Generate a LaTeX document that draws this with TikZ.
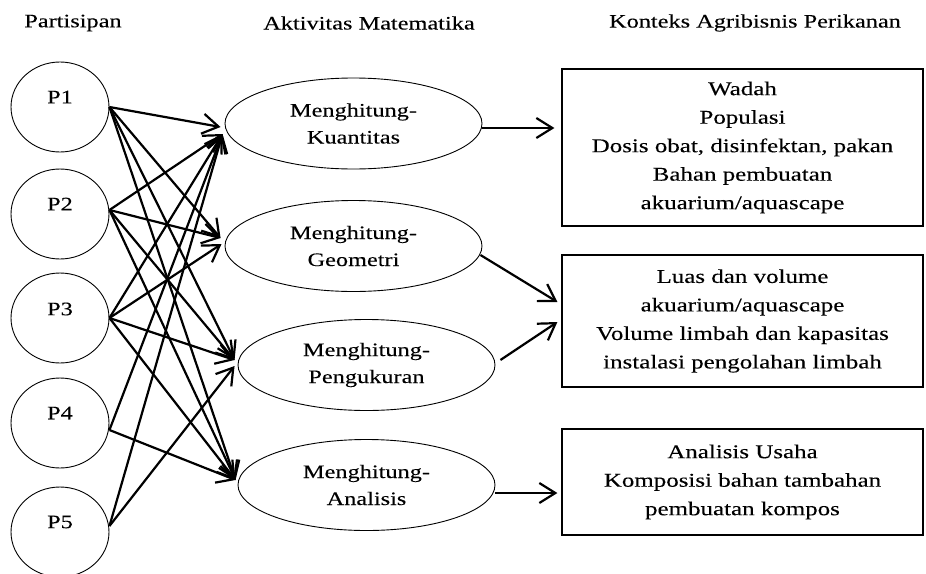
\documentclass[tikz,border=0pt]{standalone}
\usepackage{fontspec}
\setmainfont{Liberation Serif}[FakeStretch=1.28,FakeBold=0.15]
\usetikzlibrary{arrows.meta,shapes.geometric}
\begin{document}
\begin{tikzpicture}[x=1pt,y=-1pt,
  every node/.style={font=\fontsize{19}{27}\selectfont},
  pnode/.style={ellipse,draw,line width=0.9pt,minimum width=98pt,minimum height=90pt,inner sep=0pt},
  ptext/.style={inner sep=0pt},
  mnode/.style={ellipse,draw,line width=0.9pt,minimum width=257pt,minimum height=91pt,inner sep=0pt,align=center},
  cbox/.style={draw,line width=1.2pt,align=center,font=\fontsize{19.5}{28.5}\selectfont,minimum width=361pt,inner sep=0pt},
  hdr/.style={inner sep=0pt},
  conn/.style={line width=2.2pt,-{Straight Barb[length=16pt,width=20pt,line width=2.2pt]}},
]
\useasboundingbox (0,0) rectangle (926,573);

% headers
\node[hdr] (h1) at (73,23) {Partisipan};
\node[hdr] (h2) at (369,23) {Aktivitas Matematika};
\node[hdr] (h3) at (755,23) {Konteks Agribisnis Perikanan};

% participants
\node[pnode] (p1) at (60,107) {};
\node[pnode] (p2) at (60,214) {};
\node[pnode] (p3) at (60,318) {};
\node[pnode] (p4) at (60,423) {};
\node[pnode] (p5) at (60,532) {};
\node[ptext] (p1t) at ([yshift=10pt]p1.center) {P1};
\node[ptext] (p2t) at ([yshift=10pt]p2.center) {P2};
\node[ptext] (p3t) at ([yshift=9pt]p3.center) {P3};
\node[ptext] (p4t) at ([yshift=10pt]p4.center) {P4};
\node[ptext] (p5t) at ([yshift=10pt]p5.center) {P5};

% activities
\node[mnode] (k)  at (353.5,123.5) {Menghitung-\\Kuantitas};
\node[mnode] (g)  at (353.5,246) {Menghitung-\\Geometri};
\node[mnode] (pe) at (366.5,365) {Menghitung-\\Pengukuran};
\node[mnode] (an) at (366.5,485) {Menghitung-\\Analisis};

% context boxes
\node[cbox,minimum height=157pt] (b1) at (742.5,147.5) {Wadah\\Populasi\\Dosis obat, disinfektan, pakan\\Bahan pembuatan\\akuarium/aquascape};
\node[cbox,minimum height=132pt] (b2) at (742.5,321) {Luas dan volume\\akuarium/aquascape\\Volume limbah dan kapasitas\\instalasi pengolahan limbah};
\node[cbox,minimum height=106pt] (b3) at (742.5,482) {Analisis Usaha\\Komposisi bahan tambahan\\pembuatan kompos};

% participant -> activity
\draw[conn] (p1.east) -- ([xshift=-4pt,yshift=-3.5pt]k.west);
\draw[conn] (p1.east) -- ([xshift=-4pt,yshift=8pt]g.west);
\draw[conn] (p1.east) -- ([xshift=-3pt,yshift=5pt]pe.west);
\draw[conn] (p1.east) -- ([xshift=-2pt,yshift=5pt]an.west);

\draw[conn] ([yshift=4pt]p2.east) -- ([xshift=-2pt,yshift=-10.5pt]k.west);
\draw[conn] ([yshift=4pt]p2.east) -- ([xshift=-4pt,yshift=8pt]g.west);
\draw[conn] ([yshift=4pt]p2.east) -- ([xshift=-3pt,yshift=5pt]pe.west);
\draw[conn] ([yshift=4pt]p2.east) -- ([xshift=-2pt,yshift=5pt]an.west);

\draw[conn] (p3.east) -- ([xshift=-2pt,yshift=-10.5pt]k.west);
\draw[conn] (p3.east) -- ([xshift=-3pt,yshift=2pt]g.west);
\draw[conn] (p3.east) -- ([xshift=-3pt,yshift=5pt]pe.west);
\draw[conn] (p3.east) -- ([xshift=-2pt,yshift=5pt]an.west);

\draw[conn] ([yshift=-7pt]p4.east) -- ([xshift=-2pt,yshift=-10.5pt]k.west);
\draw[conn] ([yshift=-7pt]p4.east) -- ([xshift=-2pt,yshift=5pt]an.west);

\draw[conn] ([yshift=6pt]p5.east) -- ([xshift=-2pt,yshift=-10.5pt]k.west);
\draw[conn] ([yshift=6pt]p5.east) -- ([xshift=-3pt,yshift=-1pt]pe.west);

% activity -> context
\draw[conn] ([yshift=-4.5pt]k.east) -- ([xshift=-7pt,yshift=19.5pt]b1.west);
\draw[conn] ([xshift=-2pt,yshift=-9pt]g.east) -- ([xshift=-4pt,yshift=19pt]b2.west);
\draw[conn] ([xshift=5pt,yshift=5pt]pe.east) -- ([xshift=-4pt,yshift=-1pt]b2.west);
\draw[conn] ([yshift=-8pt]an.east) -- ([xshift=-4pt,yshift=-11pt]b3.west);
\end{tikzpicture}
\end{document}
